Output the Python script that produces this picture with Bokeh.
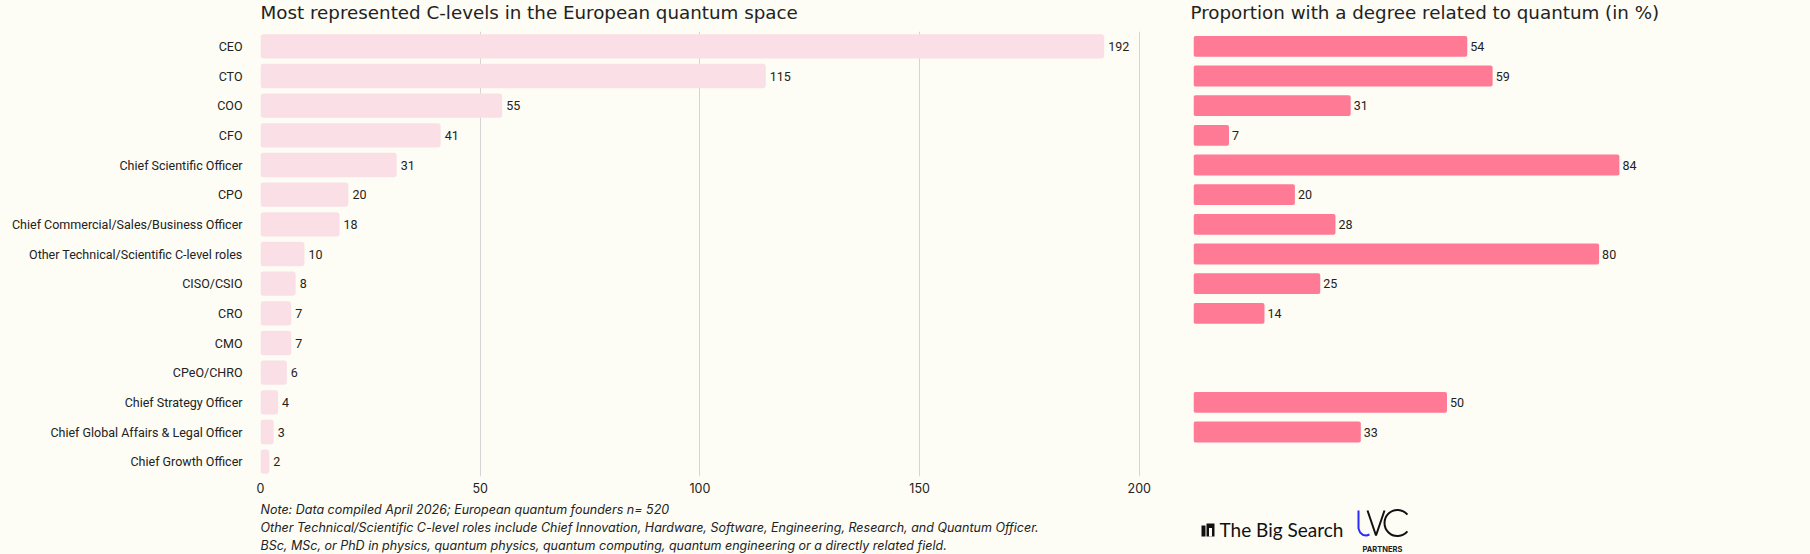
from bokeh.embed import file_html
from bokeh.layouts import column, row
from bokeh.models import ColumnDataSource, FactorRange, FixedTicker, Range1d
from bokeh.plotting import figure
from bokeh.resources import INLINE
from bokeh.core.properties import value

roles = [
    "CEO", "CTO", "COO", "CFO", "Chief Scientific Officer", "CPO",
    "Chief Commercial/Sales/Business Officer",
    "Other Technical/Scientific C-level roles",
    "CISO/CSIO", "CRO", "CMO", "CPeO/CHRO", "Chief Strategy Officer",
    "Chief Global Affairs & Legal Officer", "Chief Growth Officer",
]
counts = [192, 115, 55, 41, 31, 20, 18, 10, 8, 7, 7, 6, 4, 3, 2]
quantum_share = [54, 59, 31, 7, 84, 20, 28, 80, 25, 14, None, None, 50, 33, None]
count_ticks = [0, 50, 100, 150, 200]
grid_ticks = [50, 100, 150, 200]

titles = [
    "Most represented C-levels in the European quantum space",
    "Proportion with a degree related to quantum (in %)",
]
notes = [
    "Note: Data compiled April 2026; European quantum founders n= 520",
    "Other Technical/Scientific C-level roles include Chief Innovation, Hardware, "
    "Software, Engineering, Research, and Quantum Officer.",
    "BSc, MSc, or PhD in physics, quantum physics, quantum computing, quantum "
    "engineering or a directly related field.",
]

BG = "#fdfcf5"
INK = "#222222"
LABEL_FONT = "Roboto"
W, H = 1810, 554
TOP, FRAME_H, AXIS_H = 31, 445, 26
FOOT_TOP = TOP + FRAME_H + AXIS_H

y_range = FactorRange(factors=roles[::-1])


def chart(width, x_end, left_border, right_border):
    p = figure(width=width, height=FRAME_H + AXIS_H, y_range=y_range,
               x_range=Range1d(0, x_end), output_backend="svg",
               toolbar_location=None,
               min_border_left=left_border, min_border_right=right_border,
               min_border_top=0, min_border_bottom=AXIS_H,
               background_fill_color=BG, border_fill_color=BG,
               outline_line_color=None)
    for ax in p.axis:
        ax.axis_line_color = None
        ax.major_tick_line_color = None
        ax.minor_tick_line_color = None
        ax.major_label_text_font = LABEL_FONT
        ax.major_label_text_font_size = "12.5px"
        ax.major_label_text_color = INK
    return p


def strip(y_top, y_bottom):
    # text-only band; y counts pixels up from the band's bottom edge
    p = figure(width=W, height=y_bottom - y_top, x_range=Range1d(0, W),
               y_range=Range1d(0, y_bottom - y_top), output_backend="svg",
               toolbar_location=None, x_axis_location=None,
               y_axis_location=None, min_border_left=0, min_border_right=0,
               min_border_top=0, min_border_bottom=0,
               background_fill_color=BG, border_fill_color=BG,
               outline_line_color=None)
    p.grid.grid_line_color = None
    return p


# left chart: counts per role
left_src = ColumnDataSource(dict(role=roles, count=counts,
                                 label=[str(c) for c in counts]))
left = chart(1160, 203, 260, 8)
left.hbar(y="role", left=0, right="count", height=0.82, source=left_src,
          fill_color="#fae0e6", line_color=None, border_radius=3)
left.text(x="count", y="role", text="label", source=left_src, x_offset=4,
          text_baseline="middle", text_font=value(LABEL_FONT),
          text_font_size="12.5px", text_color=INK)
left.xaxis.ticker = FixedTicker(ticks=count_ticks)
left.xaxis.major_label_text_font = "Inter"
left.xaxis.major_label_standoff = 0
left.xgrid.ticker = FixedTicker(ticks=grid_ticks)
left.xgrid.grid_line_color = "#d4d4d4"
left.ygrid.grid_line_color = None
left.yaxis.major_label_standoff = 12

# right chart: share with a quantum degree
have = [i for i, v in enumerate(quantum_share) if v is not None]
right_src = ColumnDataSource(dict(
    role=[roles[i] for i in have],
    share=[quantum_share[i] for i in have],
    label=[str(quantum_share[i]) for i in have],
))
right = chart(650, 100, 33, 110)
right.hbar(y="role", left=0, right="share", height=0.70, source=right_src,
           fill_color="#ff7a95", line_color=None, border_radius=2)
right.text(x="share", y="role", text="label", source=right_src, x_offset=3,
           text_baseline="middle", text_font=value(LABEL_FONT),
           text_font_size="12.5px", text_color=INK)
right.axis.visible = False
right.grid.grid_line_color = None

# titles, centred 12px below the top of the page
head = strip(0, TOP)
head.text(x=[260, 1190], y=[TOP - 12] * 2, text=titles,
          text_font=value("DejaVu Sans"), text_font_size="18.3px",
          text_color=INK, text_baseline="middle")

# notes and logos; page y converted to band coordinates
foot = strip(FOOT_TOP, H)


def fy(page_y):
    return H - page_y


foot.text(x=[260] * 3, y=[fy(509), fy(527), fy(545)], text=notes,
          text_font=value("Inter"), text_font_style="italic",
          text_font_size="12.5px", text_color=INK, text_baseline="middle")

foot.quad(left=[1201, 1206], right=[1205, 1214], top=[fy(525), fy(523)],
          bottom=[fy(536), fy(536)], fill_color="#111111", line_color=None)
foot.quad(left=[1208.5], right=[1211.5], top=[fy(527.5)], bottom=[fy(536)],
          fill_color=BG, line_color=None)
foot.text(x=[1219], y=[fy(529)], text=["The Big Search"],
          text_font=value("Lato"), text_font_size="19px", text_color="#111111",
          text_baseline="middle")

foot.line(x=[1358, 1358, 1359.6, 1362.6, 1366, 1369],
          y=[fy(p) for p in [510, 528, 532, 534.5, 535, 534]],
          line_color="#2a2aff", line_width=2)
foot.line(x=[1367, 1375.5, 1384], y=[fy(510), fy(535), fy(510)],
          line_color="#111111", line_width=2)
foot.arc(x=[1397], y=[fy(522.5)], radius=13, start_angle=0.7, end_angle=5.58,
         direction="anticlock", line_color="#111111", line_width=2)
foot.text(x=[1362], y=[fy(548.5)], text=["PARTNERS"], text_font=value("Inter"),
          text_font_style="bold", text_font_size="7.5px", text_color="#222222",
          text_baseline="middle")

layout = column(head, row(left, right), foot)

page = file_html(layout, INLINE)
page = page.replace(
    "</head>",
    f"<style>html, body {{ background: {BG} !important; margin: 0; "
    f"overflow: hidden; }}</style></head>", 1)
open("out.html", "w").write(page)
